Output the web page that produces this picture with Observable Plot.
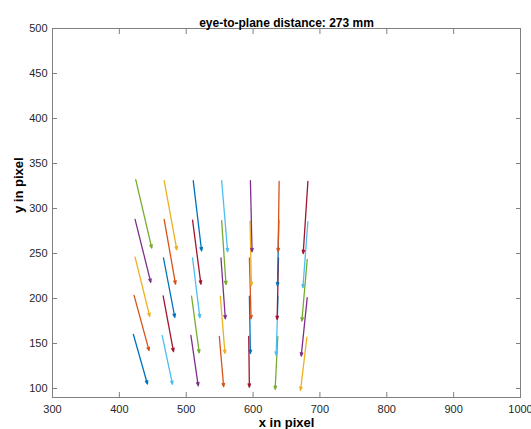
<!DOCTYPE html>
<html>
<head>
<meta charset="utf-8">
<script src="https://cdn.jsdelivr.net/npm/d3@7"></script>
<script src="https://cdn.jsdelivr.net/npm/@observablehq/plot@0.6"></script>
<style>
  html, body { margin: 0; padding: 0; background: #fff; overflow: hidden; }
</style>
</head>
<body>
<div id="chart"></div>
<script>
// Arrows ordered column by column (left to right), bottom row to top row
const xStart = [421, 422, 423.5, 423.5, 424.5,
                464, 465.5, 466, 467, 467,
                507, 508, 509.5, 509.5, 510.5,
                549.5, 551, 552, 553, 553,
                593.5, 594.5, 594.5, 595.5, 596,
                637, 637.5, 638, 638.5, 639,
                680.5, 681, 681, 682, 682];
const yStart = [160, 203.5, 246, 288, 332,
                159, 203, 245, 288, 331,
                159, 202.5, 245, 287, 331,
                158, 202.5, 245, 286.5, 331,
                158, 202.5, 245, 286, 331,
                158, 202.5, 245, 287, 330,
                157, 201, 243.5, 285.5, 330];
const xEnd = [442, 444.5, 445.5, 447, 448.5,
              479.5, 481, 483, 484, 486,
              518, 519.5, 520.5, 522, 523,
              556, 558, 558.5, 559.5, 562,
              594.5, 596, 597, 597.5, 598.5,
              633, 634.5, 636, 636.5, 637.5,
              671, 672, 673, 674.5, 675];
const yEnd = [105, 142, 180, 218, 256,
              104.5, 141, 179, 216, 254,
              103, 139.5, 178.5, 216, 253,
              102, 139, 177.5, 215.5, 252,
              101.5, 139, 177.5, 214.5, 252,
              99, 137, 176.7, 214, 252,
              98, 136, 175, 212, 250];
const colorOrder = ["#0072BD", "#D95319", "#EDB120", "#7E2F8E", "#77AC30", "#4DBEEE", "#A2142F"];
const xTicks = [300, 400, 500, 600, 700, 800, 900, 1000];
const yTicks = [100, 150, 200, 250, 300, 350, 400, 450, 500];
const titleText = "eye-to-plane distance: 273 mm";
const xLabel = "x in pixel";
const yLabel = "y in pixel";

const arrows = xStart.map((x, i) => ({
  x1: x, y1: yStart[i], x2: xEnd[i], y2: yEnd[i], c: colorOrder[i % colorOrder.length]
}));

const axisGray = "#808080";
const textColor = "#262626";
const fmt = d => String(d);

const chart = Plot.plot({
  width: 531,
  height: 429,
  marginLeft: 52,
  marginRight: 11,
  marginTop: 28,
  marginBottom: 32,
  style: {
    fontFamily: "'Liberation Sans', Arial, Helvetica, sans-serif",
    fontSize: "11px",
    color: textColor,
    background: "#fff",
    overflow: "visible"
  },
  x: { domain: [300, 1000] },
  y: { domain: [90, 500] },
  marks: [
    // tick labels
    Plot.axisX(xTicks, { anchor: "bottom", tickSize: 0, tickPadding: 8, tickFormat: fmt, label: null, fill: textColor }),
    Plot.axisY(yTicks, { anchor: "left", tickSize: 0, tickPadding: 5, tickFormat: fmt, label: null, fill: textColor }),
    // inward ticks on all four sides
    Plot.axisX(xTicks, { anchor: "bottom", tickSize: 5, dy: -5, text: null, label: null, stroke: axisGray }),
    Plot.axisX(xTicks, { anchor: "top", tickSize: 5, dy: 5, text: null, label: null, stroke: axisGray }),
    Plot.axisY(yTicks, { anchor: "left", tickSize: 5, dx: 5, text: null, label: null, stroke: axisGray }),
    Plot.axisY(yTicks, { anchor: "right", tickSize: 5, dx: -5, text: null, label: null, stroke: axisGray }),
    Plot.frame({ stroke: axisGray, strokeWidth: 1 }),
    Plot.arrow(arrows, {
      x1: "x1", y1: "y1", x2: "x2", y2: "y2",
      stroke: d => d.c,
      strokeWidth: 1.3,
      headLength: 4,
      headAngle: 40,
      insetEnd: 0
    }),
    Plot.text([titleText], { text: d => d, frameAnchor: "top", dy: -10, fontWeight: "bold", fontSize: 12, fill: "#000" }),
    Plot.text([xLabel], { text: d => d, frameAnchor: "bottom", dy: 29, fontWeight: "bold", fontSize: 13, fill: "#000" }),
    Plot.text([yLabel], { text: d => d, frameAnchor: "left", dx: -34, rotate: -90, fontWeight: "bold", fontSize: 13, fill: "#000" })
  ]
});
chart.style.color = textColor;
document.getElementById("chart").appendChild(chart);
</script>
</body>
</html>
